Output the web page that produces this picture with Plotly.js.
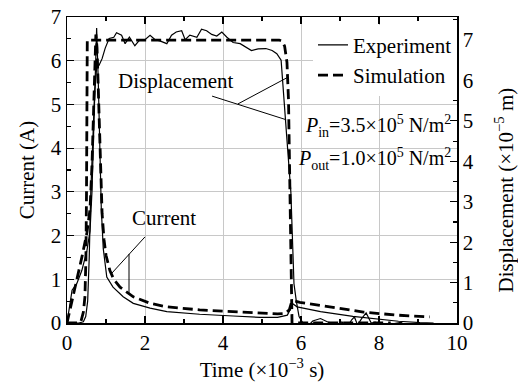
<!DOCTYPE html>
<html>
<head>
<meta charset="utf-8">
<script src="https://cdn.plot.ly/plotly-3.0.1.min.js"></script>
<style>html,body{margin:0;padding:0;background:#fff;}#chart{width:518px;height:390px;}</style>
</head>
<body>
<div id="chart"></div>
<script>
// Time in ms (x10^-3 s)
// Current, experiment (A)
const curExpT = [0,0.06,0.13,0.25,0.38,0.51,0.59,0.64,0.68,0.72,0.76,0.8,0.84,0.88,0.93,0.98,1.02,1.18,1.44,1.7,2.13,2.56,3.4,4.26,4.95,5.4,5.65,5.72,5.77,5.9,6.5,7.33,8.0,8.5,9.05,9.4];
const curExpV = [0,0.4,0.75,0.9,1.2,1.65,2.1,3.0,4.2,5.6,6.75,5.6,4.0,2.6,1.7,1.25,1.05,0.82,0.6,0.45,0.34,0.26,0.2,0.16,0.13,0.13,0.18,0.3,0.45,0.37,0.26,0.15,0.08,0.04,0.01,0];
// Current, simulation (A)
const curSimT = [0,0.12,0.25,0.38,0.51,0.59,0.64,0.68,0.72,0.74,0.77,0.81,0.85,0.9,0.95,1.0,1.1,1.2,1.36,1.7,2.13,2.56,3.4,4.26,4.95,5.4,5.6,5.7,5.76,5.85,5.97,6.74,7.6,8.45,9.3];
const curSimV = [0,0.46,0.98,1.5,2.06,2.6,3.6,5.0,6.4,6.6,6.3,5.0,3.6,2.5,1.9,1.55,1.2,1.0,0.82,0.6,0.45,0.37,0.3,0.26,0.23,0.21,0.22,0.3,0.48,0.5,0.47,0.37,0.25,0.18,0.14];
// Displacement, experiment (x10^-5 m)
const dispExpT = [0,0.3,0.42,0.48,0.53,0.57,0.61,0.66,0.71,0.76,0.82,0.9,0.98,1.08,1.2,1.27,1.4,1.49,1.6,1.74,1.87,2.0,2.13,2.26,2.38,2.56,2.68,2.8,2.94,3.03,3.15,3.33,3.45,3.58,3.71,3.84,3.97,4.1,4.26,4.44,4.6,4.73,4.9,5.1,5.26,5.38,5.49,5.56,5.64,5.74,5.82,5.88,5.95,6.05,6.15,6.3,6.5,6.7,6.85,6.95,7.05,7.18,7.3,7.37,7.45,7.55,7.67,7.8,7.9,8.0,8.18,8.3,8.45,8.6];
const dispExpV = [0,0,0.03,0.16,0.54,1.62,3.24,4.64,5.72,6.31,6.37,6.54,6.8,7.04,7.07,7.18,7.12,6.91,7.07,6.86,7.01,7.01,7.12,7.01,6.98,6.91,7.12,7.2,7.23,7.01,7.12,7.07,7.27,7.23,7.14,7.1,7.2,7.07,6.94,6.91,6.82,6.74,6.78,6.79,6.74,6.66,6.5,5.5,4.53,3.24,0.97,0.54,0.16,0,-0.11,0.05,0.11,0.02,-0.03,-0.22,0.03,-0.11,0.08,0.15,-0.05,0.1,0.25,0,0.02,-0.02,-0.05,-0.03,0,0.02];
// Displacement, simulation (x10^-5 m)
const dispSimT = [0,0.3,0.36,0.42,0.46,0.485,0.5,0.51,0.52,5.44,5.52,5.58,5.64,5.68,5.71,5.73,5.75,5.77,8.3];
const dispSimV = [0,0,0.05,0.27,0.65,1.6,3.2,5.4,7.0,7.0,6.97,6.85,6.45,5.5,4.0,2.5,1.2,0,0];

const FONT = 'Liberation Serif, Times New Roman, serif';
const solid = {color:'#000', width:1.2};
const dashed = {color:'#000', width:2.8, dash:'10px,5px'};

const traces = [
  {x:dispExpT, y:dispExpV, yaxis:'y2', mode:'lines', line:solid, showlegend:false, legendgroup:'e', name:'Experiment'},
  {x:dispSimT, y:dispSimV, yaxis:'y2', mode:'lines', line:dashed, showlegend:false, legendgroup:'s', name:'Simulation'},
  {x:curExpT, y:curExpV, mode:'lines', line:solid, name:'Experiment', legendgroup:'e'},
  {x:curSimT, y:curSimV, mode:'lines', line:dashed, name:'Simulation', legendgroup:'s'}
];

const axFont = {family:FONT, size:21, color:'#000'};
const pFont = {family:FONT, size:20, color:'#000'};
const layout = {
  width:518, height:390,
  margin:{l:67, r:61, t:17, b:67},
  paper_bgcolor:'#fff', plot_bgcolor:'#fff',
  font:axFont,
  showlegend:true,
  legend:{x:1, xanchor:'right', y:0.975, yanchor:'top', bgcolor:'#fff', font:axFont, tracegroupgap:0, borderwidth:0},
  xaxis:{range:[0,10], dtick:2, tick0:0, ticks:'inside', ticklen:7, tickwidth:1.2, tickcolor:'#000',
    minor:{dtick:1, ticks:'inside', ticklen:4, tickcolor:'#000', showgrid:false},
    showgrid:true, gridcolor:'#c8c8c8', gridwidth:1, zeroline:false,
    showline:true, linecolor:'#000', linewidth:1.5, mirror:'ticks', tickfont:axFont,
    title:{text:'Time (×10<sup>−3</sup> s)', font:axFont, standoff:4}},
  yaxis:{range:[0,7], dtick:1, tick0:0, ticks:'inside', ticklen:7, tickwidth:1.2, tickcolor:'#000',
    minor:{dtick:0.5, ticks:'inside', ticklen:4, tickcolor:'#000', showgrid:false},
    showgrid:true, gridcolor:'#c8c8c8', gridwidth:1, zeroline:false,
    showline:true, linecolor:'#000', linewidth:1.5, mirror:true, tickfont:axFont,
    title:{text:'Current (A)', font:axFont, standoff:10}},
  yaxis2:{range:[0,7.57], dtick:1, tick0:0, overlaying:'y', side:'right', ticks:'inside', ticklen:7, tickwidth:1.2, tickcolor:'#000',
    minor:{dtick:0.5, ticks:'inside', ticklen:4, tickcolor:'#000', showgrid:false},
    showgrid:false, zeroline:false, showline:true, linecolor:'#000', linewidth:1.5, tickfont:axFont},
  annotations:[
    {text:'Displacement (×10<sup>−5</sup> m)', xref:'paper', yref:'paper', x:1.122, y:0.435, textangle:-90, showarrow:false, font:axFont, xanchor:'center', yanchor:'middle'},
    {text:'Displacement', xref:'x', yref:'y', x:2.8, y:5.54, showarrow:false, font:axFont},
    {text:'Current', xref:'x', yref:'y', x:2.49, y:2.4, showarrow:false, font:axFont},
    {text:'<i>P</i><sub>in</sub>=3.5×10<sup>5</sup> N/m<sup>2</sup>', xref:'paper', yref:'y', x:0.99, y:4.5, xanchor:'right', showarrow:false, font:pFont},
    {text:'<i>P</i><sub>out</sub>=1.0×10<sup>5</sup> N/m<sup>2</sup>', xref:'paper', yref:'y', x:0.99, y:3.76, xanchor:'right', showarrow:false, font:pFont}
  ],
  shapes:[
    {type:'line', xref:'x', yref:'y', x0:3.72, y0:5.19, x1:5.62, y1:4.65, line:{color:'#000', width:1}},
    {type:'line', xref:'x', yref:'y', x0:4.38, y0:5.01, x1:5.64, y1:5.61, line:{color:'#000', width:1}},
    {type:'line', xref:'x', yref:'y', x0:2.0, y0:1.97, x1:1.15, y1:1.14, line:{color:'#000', width:1}},
    {type:'line', xref:'x', yref:'y', x0:1.59, y0:1.58, x1:1.59, y1:0.69, line:{color:'#000', width:1}}
  ]
};
Plotly.newPlot('chart', traces, layout, {displayModeBar:false, staticPlot:true});
</script>
</body>
</html>
